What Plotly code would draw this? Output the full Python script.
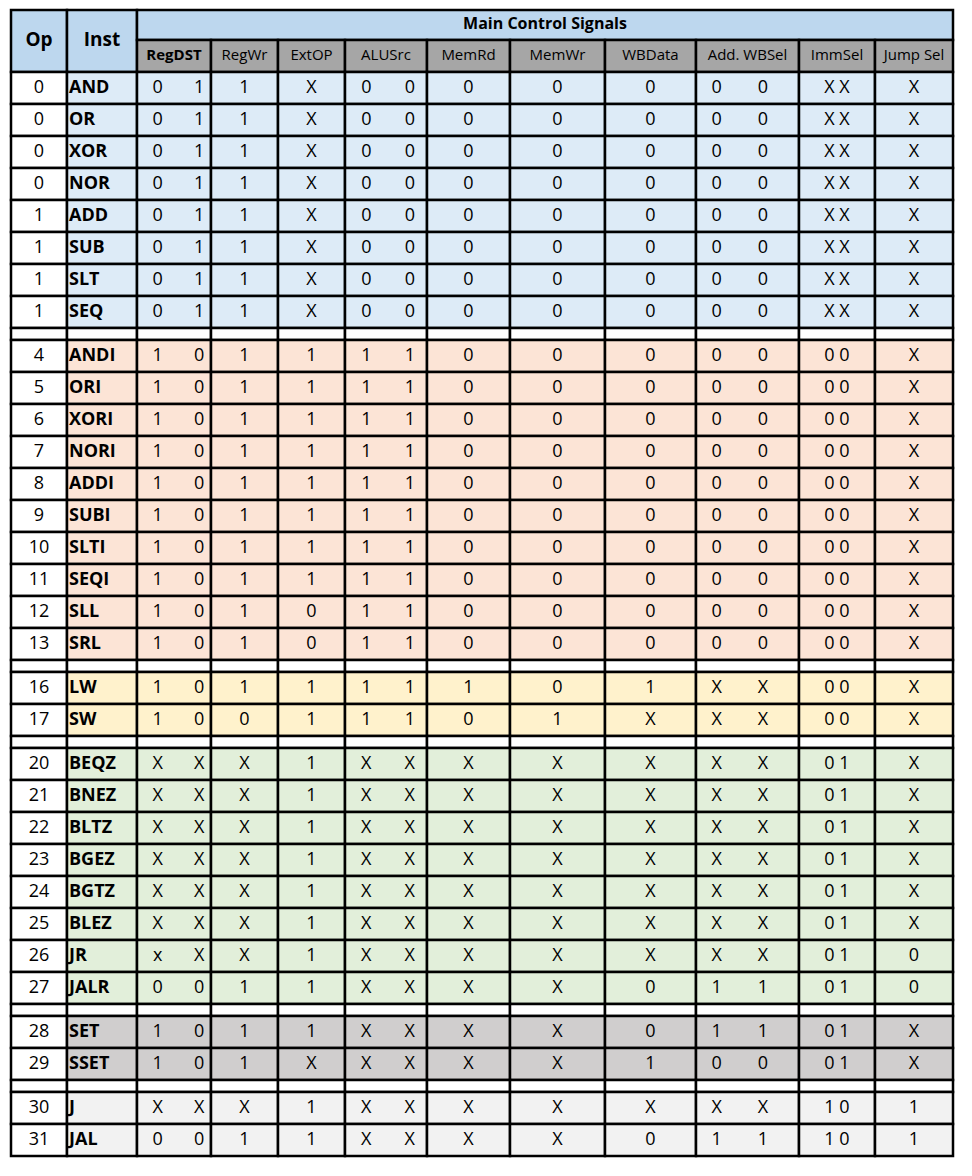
import plotly.graph_objects as go

# данные таблицы
ops = [0, 0, 0, 0, 1, 1, 1, 1,
       4, 5, 6, 7, 8, 9, 10, 11, 12, 13,
       16, 17,
       20, 21, 22, 23, 24, 25, 26, 27,
       28, 29,
       30, 31]
insts = ["AND", "OR", "XOR", "NOR", "ADD", "SUB", "SLT", "SEQ",
         "ANDI", "ORI", "XORI", "NORI", "ADDI", "SUBI", "SLTI", "SEQI", "SLL", "SRL",
         "LW", "SW",
         "BEQZ", "BNEZ", "BLTZ", "BGEZ", "BGTZ", "BLEZ", "JR", "JALR",
         "SET", "SSET",
         "J", "JAL"]
group_sizes = [8, 10, 2, 8, 2, 2]
group_colors = ["#DDEBF7", "#FCE4D6", "#FFF2CC", "#E2EFDA", "#D0CECE", "#F2F2F2"]

regdst_a = ["0"] * 8 + ["1"] * 10 + ["1", "1"] + ["X"] * 6 + ["x", "0"] + ["1", "1"] + ["X", "0"]
regdst_b = ["1"] * 8 + ["0"] * 10 + ["0", "0"] + ["X"] * 7 + ["0"] + ["0", "0"] + ["X", "0"]
regwr = ["1"] * 8 + ["1"] * 10 + ["1", "0"] + ["X"] * 7 + ["1"] + ["1", "1"] + ["X", "1"]
extop = ["X"] * 8 + ["1"] * 8 + ["0", "0"] + ["1", "1"] + ["1"] * 8 + ["1", "X"] + ["1", "1"]
alusrc_a = ["0"] * 8 + ["1"] * 10 + ["1", "1"] + ["X"] * 8 + ["X", "X"] + ["X", "X"]
alusrc_b = alusrc_a[:]
memrd = ["0"] * 8 + ["0"] * 10 + ["1", "0"] + ["X"] * 8 + ["X", "X"] + ["X", "X"]
memwr = ["0"] * 8 + ["0"] * 10 + ["0", "1"] + ["X"] * 8 + ["X", "X"] + ["X", "X"]
wbdata = ["0"] * 8 + ["0"] * 10 + ["1", "X"] + ["X"] * 7 + ["0"] + ["0", "1"] + ["X", "0"]
addwb_a = ["0"] * 8 + ["0"] * 10 + ["X", "X"] + ["X"] * 7 + ["1"] + ["1", "0"] + ["X", "1"]
addwb_b = addwb_a[:]
immsel = ["X X"] * 8 + ["0 0"] * 10 + ["0 0", "0 0"] + ["0 1"] * 8 + ["0 1", "0 1"] + ["1 0", "1 0"]
jumpsel = ["X"] * 8 + ["X"] * 10 + ["X", "X"] + ["X"] * 6 + ["0", "0"] + ["X", "X"] + ["1", "1"]

sub_headers = ["RegDST", "RegWr", "ExtOP", "ALUSrc", "MemRd", "MemWr",
               "WBData", "Add. WBSel", "ImmSel", "Jump Sel"]

# геометрия (пиксели страницы)
col_edges = [11, 67, 137, 211, 278, 345, 427, 510, 605, 696, 799, 875, 953]
top, h1, h2 = 10, 40, 72
row_h, sep_h = 32, 12
font = "Open Sans, Liberation Sans, Arial"
bw = 2.5
off = 8  # отступ body в html

fig = go.Figure()
shapes = []


def rect(x0, x1, y0, y1, color):
    shapes.append(dict(type="rect", x0=x0, x1=x1, y0=y0, y1=y1, fillcolor=color,
                       line=dict(color="black", width=bw), layer="below"))


# заголовки
rect(col_edges[0], col_edges[1], top, h2, "#BDD7EE")
rect(col_edges[1], col_edges[2], top, h2, "#BDD7EE")
rect(col_edges[2], col_edges[-1], top, h1, "#BDD7EE")
for i in range(10):
    rect(col_edges[i + 2], col_edges[i + 3], h1, h2, "#A6A6A6")

# строки
row_y = []
y = h2
for g, n in enumerate(group_sizes):
    for k in range(n):
        row_y.append(y + row_h / 2)
        rect(col_edges[0], col_edges[1], y, y + row_h, "white")
        for c in range(1, 12):
            rect(col_edges[c], col_edges[c + 1], y, y + row_h, group_colors[g])
        y += row_h
    if g < len(group_sizes) - 1:
        for c in range(12):
            rect(col_edges[c], col_edges[c + 1], y, y + sep_h, "white")
        y += sep_h


def cx(c, frac=0.5):
    return col_edges[c] + (col_edges[c + 1] - col_edges[c]) * frac


def add_text(xs, ys, texts, size=18, bold=False, pos="middle center"):
    fig.add_trace(go.Scatter(
        x=xs, y=ys, mode="text",
        text=[f"<b>{t}</b>" if bold else str(t) for t in texts],
        textposition=pos, textfont=dict(family=font, size=size, color="black"),
        hoverinfo="skip", showlegend=False))


n = len(ops)
add_text([cx(0)] * n, row_y, ops)
add_text([col_edges[1] + 2] * n, row_y, insts, bold=True, pos="middle right")
add_text([cx(2, 0.28)] * n, row_y, regdst_a)
add_text([cx(2, 0.84)] * n, row_y, regdst_b)
add_text([cx(3)] * n, row_y, regwr)
add_text([cx(4)] * n, row_y, extop)
add_text([cx(5, 0.26)] * n, row_y, alusrc_a)
add_text([cx(5, 0.79)] * n, row_y, alusrc_b)
add_text([cx(6)] * n, row_y, memrd)
add_text([cx(7)] * n, row_y, memwr)
add_text([cx(8)] * n, row_y, wbdata)
add_text([cx(9, 0.2)] * n, row_y, addwb_a)
add_text([cx(9, 0.65)] * n, row_y, addwb_b)
add_text([cx(10)] * n, row_y, immsel)
add_text([cx(11)] * n, row_y, jumpsel)

# тексты заголовков
add_text([cx(0), cx(1)], [(top + h2) / 2] * 2, ["Op", "Inst"], size=19, bold=True)
add_text([(col_edges[2] + col_edges[-1]) / 2], [(top + h1) / 2], ["Main Control Signals"], size=16, bold=True)
add_text([cx(i + 2) for i in range(10)], [(h1 + h2) / 2] * 10,
         [f"<b>{s}</b>" if s == "RegDST" else s for s in sub_headers], size=15)

fig.update_layout(
    width=972, height=1176, margin=dict(l=0, r=0, t=0, b=0),
    plot_bgcolor="white", paper_bgcolor="white", shapes=shapes,
    xaxis=dict(range=[off, 972 + off], visible=False, fixedrange=True),
    yaxis=dict(range=[1176 + off, off], visible=False, fixedrange=True),
)
fig.write_html("out.html")
